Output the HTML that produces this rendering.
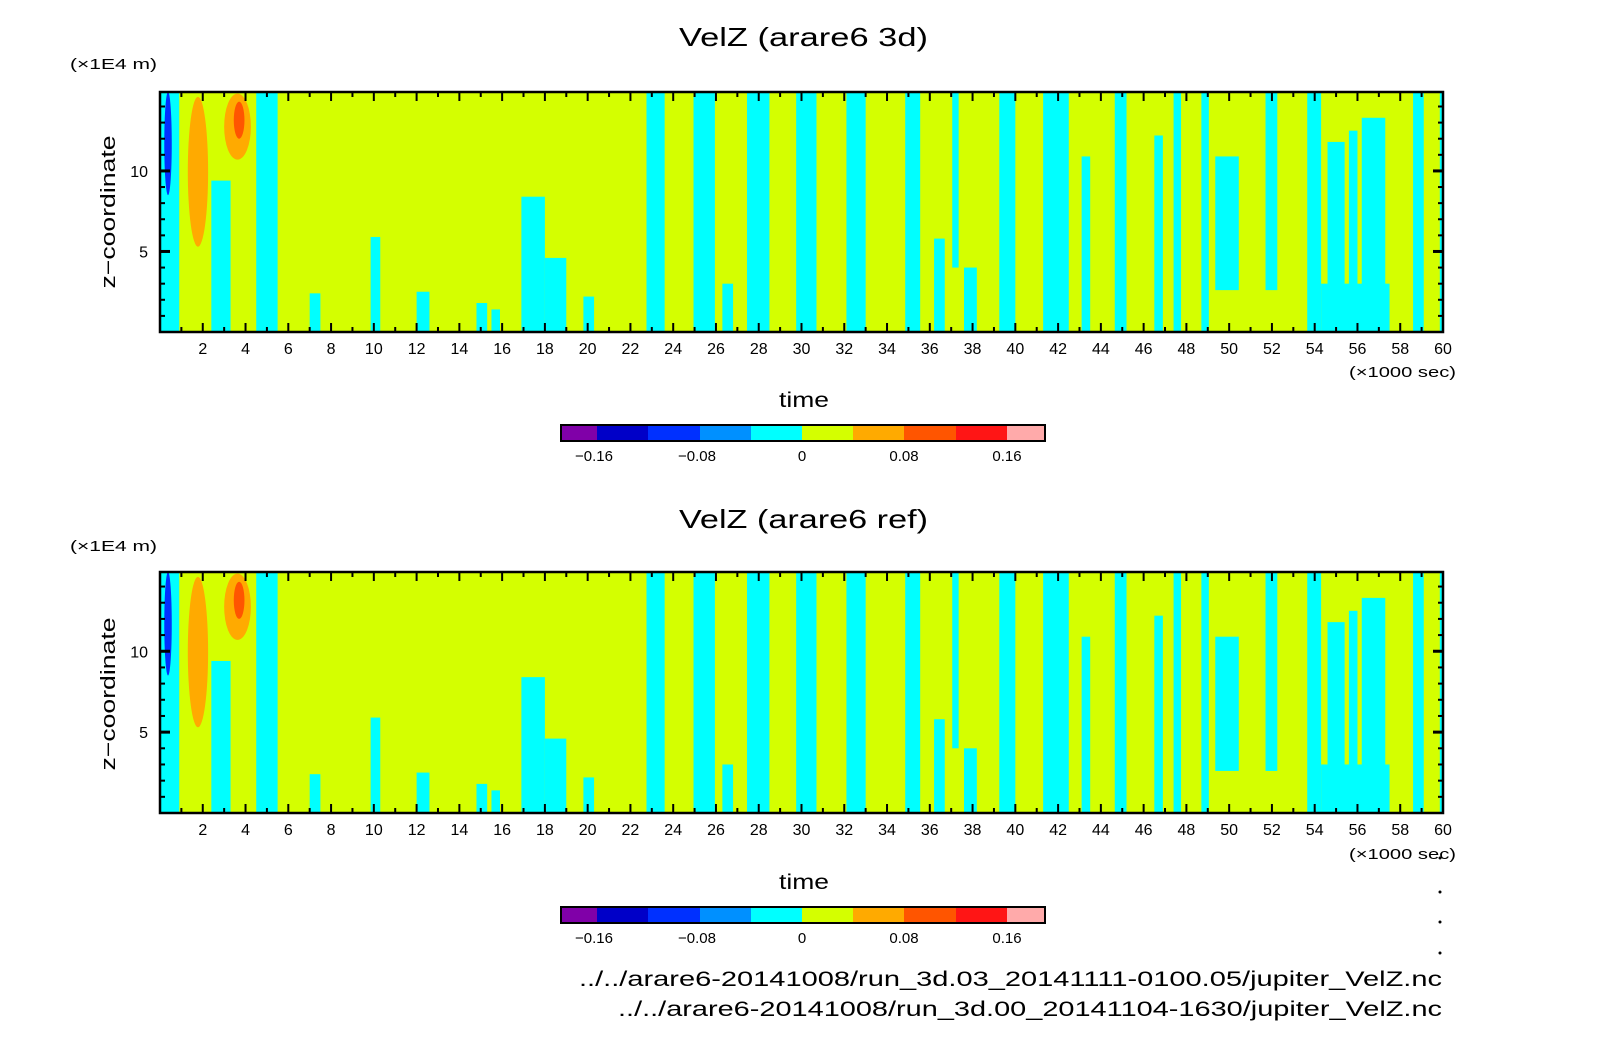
<!DOCTYPE html>
<html><head><meta charset="utf-8"><style>
html,body{margin:0;padding:0;background:#fff;}
svg{display:block;font-family:"Liberation Sans","DejaVu Sans",sans-serif;}
</style></head><body>
<svg id="chart" width="1604" height="1054" viewBox="0 0 1604 1054" xmlns="http://www.w3.org/2000/svg"></svg>
<script>
// ---- data (time in 1000 s, z in 1E4 m) ----
const cyanT0 = [0.0, 2.4, 4.5, 7.0, 9.85, 12.0, 16.9, 18.0, 22.75, 24.95, 27.45, 29.75, 32.1, 34.85, 37.05, 39.25, 41.3, 43.1, 44.65, 46.5, 47.4, 48.7, 49.35, 51.7, 53.65, 54.6, 55.6, 56.2, 54.3, 58.6, 59.85, 14.8, 15.5, 19.8, 26.3, 36.2, 37.6];
const cyanT1 = [0.9, 3.3, 5.5, 7.5, 10.3, 12.6, 18.0, 19.0, 23.6, 25.95, 28.5, 30.7, 33.0, 35.55, 37.35, 40.0, 42.5, 43.5, 45.2, 46.9, 47.75, 49.05, 50.45, 52.25, 54.3, 55.4, 56.0, 57.3, 57.5, 59.1, 60.0, 15.3, 15.9, 20.3, 26.8, 36.7, 38.2];
const cyanZ0 = [0, 0, 0, 0, 0, 0, 0, 0, 0, 0, 0, 0, 0, 0, 4.0, 0, 0, 0, 0, 0, 0, 0, 2.6, 2.6, 0, 0, 0, 0, 0, 0, 0, 0, 0, 0, 0, 0, 0];
const cyanZ1 = [14.9, 9.4, 14.9, 2.4, 5.9, 2.5, 8.4, 4.6, 14.9, 14.9, 14.9, 14.9, 14.9, 14.9, 14.9, 14.9, 14.9, 10.9, 14.9, 12.2, 14.9, 14.9, 10.9, 14.9, 14.9, 11.8, 12.5, 13.3, 3.0, 14.9, 14.9, 1.8, 1.4, 2.2, 3.0, 5.8, 4.0];
const blobT0 = [0.2, 1.3, 3.0, 3.45];
const blobT1 = [0.55, 2.25, 4.25, 3.95];
const blobZ0 = [8.5, 5.3, 10.7, 12.0];
const blobZ1 = [14.9, 14.6, 14.8, 14.3];
const blobLevel = [-2, 1, 1, 2];
const xTickLabels = [2,4,6,8,10,12,14,16,18,20,22,24,26,28,30,32,34,36,38,40,42,44,46,48,50,52,54,56,58,60];
const yTickLabels = [5,10];
const cbarColors = ["#8000a8","#0000c8","#0030ff","#0090ff","#00ffff","#d4ff00","#ffaa00","#ff5500","#ff1515","#ffaaaa"];
const cbarLabels = ["−0.16","−0.08","0","0.08","0.16"];

const NS="http://www.w3.org/2000/svg";
const svg=document.getElementById('chart');
function mk(tag,attrs,parent){const e=document.createElementNS(NS,tag);for(const k in attrs)e.setAttribute(k,attrs[k]);(parent||svg).appendChild(e);return e;}
function fit(e,len){e.setAttribute('textLength',len);e.setAttribute('lengthAdjust','spacingAndGlyphs');}
const levelColor={"-2":"#0030ff","-1":"#0090ff","0":"#00ffff","1":"#ffaa00","2":"#ff5500"};
const X0=160,X1=1443,TMAX=60,ZMAX=14.9;

function panel(top,bottom,title,dy){
  const g=mk('g',{});
  
  
  const sx=t=>X0+(t/TMAX)*(X1-X0);
  const sy=z=>bottom-(z/ZMAX)*(bottom-top);
  const bg=mk('rect',{x:X0,y:top,width:X1-X0,height:bottom-top,fill:"#d4ff00"},g);
  
  
  for(let i=0;i<cyanT0.length;i++){
    const r=mk('rect',{x:sx(cyanT0[i]),y:sy(cyanZ1[i]),width:sx(cyanT1[i])-sx(cyanT0[i]),height:sy(cyanZ0[i])-sy(cyanZ1[i]),fill:"#00ffff"},g);
    
    
  }
  for(let i=0;i<blobT0.length;i++){
    const cx=(sx(blobT0[i])+sx(blobT1[i]))/2, cy=(sy(blobZ0[i])+sy(blobZ1[i]))/2;
    const e=mk('ellipse',{cx:cx,cy:cy,rx:(sx(blobT1[i])-sx(blobT0[i]))/2,ry:(sy(blobZ0[i])-sy(blobZ1[i]))/2,fill:levelColor[blobLevel[i]]},g);
    
    
  }
  const fr=mk('rect',{x:X0,y:top,width:X1-X0,height:bottom-top,fill:"none",stroke:"#000","stroke-width":2.5},g);
  
  
  for(let t=1;t<TMAX;t++){
    const L=t%2==0?9:5,x=sx(t);
    mk('line',{x1:x,y1:bottom,x2:x,y2:bottom-L,stroke:"#000","stroke-width":2},g);
    mk('line',{x1:x,y1:top,x2:x,y2:top+L,stroke:"#000","stroke-width":2},g);
  }
  for(let z=1;z<ZMAX;z++){
    const L=z%5==0?10:5,y=sy(z);
    mk('line',{x1:X0,y1:y,x2:X0+L,y2:y,stroke:"#000","stroke-width":z%5==0?3:2},g);
    mk('line',{x1:X1,y1:y,x2:X1-L,y2:y,stroke:"#000","stroke-width":z%5==0?3:2},g);
  }
  xTickLabels.forEach(v=>{
    const t=mk('text',{x:sx(v),y:bottom+22,"font-size":16,"text-anchor":"middle"},g);
    t.textContent=v;
    
    
  });
  yTickLabels.forEach(v=>{
    const t=mk('text',{x:X0-12,y:sy(v)+6,"font-size":16,"text-anchor":"end"},g);
    t.textContent=v;
    
    
  });
  const tt=mk('text',{x:679,y:46+dy,"font-size":26},g);
  tt.textContent=title;
  fit(tt,249);
  
  
  const yu=mk('text',{x:70,y:69+dy,"font-size":15},g);
  yu.textContent="(×1E4 m)";
  fit(yu,87);
  
  
  const ya=mk('text',{x:0,y:0,"font-size":20,"text-anchor":"middle",transform:`translate(115,${212+dy}) rotate(-90)`},g);
  ya.textContent="z−coordinate";
  fit(ya,153);
  
  
  const xu=mk('text',{x:1349,y:377+dy,"font-size":15},g);
  xu.textContent="(×1000 sec)";
  fit(xu,107);
  
  
  const xa=mk('text',{x:779,y:407+dy,"font-size":21},g);
  xa.textContent="time";
  fit(xa,50);
  
  
  const edges=[561,597,648,700,751,802,853,904,956,1007,1045];
  const cb=mk('g',{},g);
  
  
  cbarColors.forEach((c,i)=>{
    const r=mk('rect',{x:edges[i],y:425+dy,width:edges[i+1]-edges[i],height:16,fill:c},cb);
    
    
  });
  mk('rect',{x:561,y:425+dy,width:484,height:16,fill:"none",stroke:"#000","stroke-width":2},cb);
  cbarLabels.forEach((l,i)=>{
    const t=mk('text',{x:edges[1+i*2]+(i<2?-3:0),y:461+dy,"font-size":15,"text-anchor":"middle"},cb);
    t.textContent=l;
    
    
  });
}
panel(92,332,"VelZ (arare6 3d)",0);
panel(572,813,"VelZ (arare6 ref)",482);
[858,892,922,953].forEach(y=>{
  const d=mk('circle',{cx:1440,cy:y,r:1.5,fill:"#000"});
  
  
});
const f1=mk('text',{x:579,y:986,"font-size":21});
f1.textContent="../../arare6-20141008/run_3d.03_20141111-0100.05/jupiter_VelZ.nc";
fit(f1,863);


const f2=mk('text',{x:618,y:1016,"font-size":21});
f2.textContent="../../arare6-20141008/run_3d.00_20141104-1630/jupiter_VelZ.nc";
fit(f2,824);


</script>
</body></html>
